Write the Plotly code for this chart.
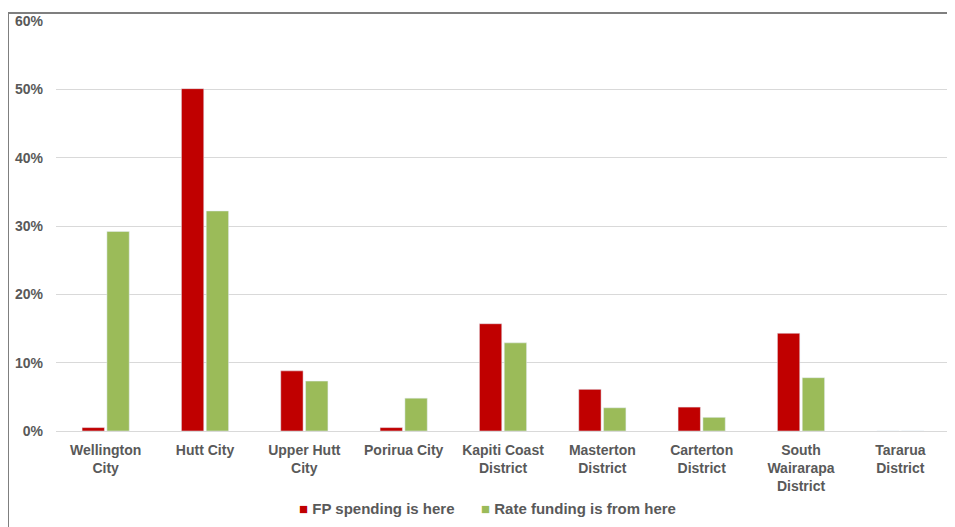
import plotly.graph_objects as go

categories = ["Wellington<br>City", "Hutt City", "Upper Hutt<br>City", "Porirua City",
              "Kapiti Coast<br>District", "Masterton<br>District", "Carterton<br>District",
              "South<br>Wairarapa<br>District", "Tararua<br>District"]
fp_spending = [0.5, 50.1, 8.8, 0.5, 15.7, 6.1, 3.5, 14.3, 0.0]
rate_funding = [29.2, 32.2, 7.3, 4.8, 12.9, 3.4, 2.0, 7.8, 0.0]
series_names = ["FP spending is here", "Rate funding is from here"]
series_colors = ["#C00000", "#9BBB59"]
y_ticks = [0, 10, 20, 30, 40, 50, 60]

grey = "#595959"
font_family = "Liberation Sans, Arial, sans-serif"

fig = go.Figure()
fig.add_trace(go.Bar(x=categories, y=fp_spending, name=series_names[0],
                     marker_color=series_colors[0], showlegend=False))
fig.add_trace(go.Bar(x=categories, y=rate_funding, name=series_names[1],
                     marker_color=series_colors[1], showlegend=False))

legend_x = [0.2696, 0.4735]
annotations = [
    dict(xref="paper", yref="paper", x=lx, y=-0.19, xanchor="left", yanchor="middle",
         showarrow=False,
         text=f"<span style='color:{c}'>■</span> <b>{n}</b>",
         font=dict(size=15, color=grey, family=font_family))
    for lx, n, c in zip(legend_x, series_names, series_colors)
]

fig.update_layout(
    width=947, height=519,
    margin=dict(l=48, r=5, t=13, b=96),
    paper_bgcolor="white", plot_bgcolor="white",
    barmode="group", bargap=0.5, bargroupgap=0.1,
    font=dict(family=font_family, color=grey),
    showlegend=False,
    annotations=annotations,
    xaxis=dict(tickfont=dict(size=14, weight="bold", color=grey), showline=True,
               linecolor="#d9d9d9", linewidth=1, ticks="", automargin=False,
               ticklabelstandoff=6),
    yaxis=dict(range=[0, 60], tickvals=y_ticks, ticktext=[f"{v}%" for v in y_ticks],
               tickfont=dict(size=14, weight="bold", color=grey),
               showgrid=True, gridcolor="#d9d9d9", gridwidth=1, zeroline=False,
               ticklabelstandoff=12, automargin=False),
    shapes=[dict(type="rect", xref="paper", yref="paper", x0=-0.0537, x1=1.2,
                 y0=-0.4, y1=1.0195, line=dict(color="#7f7f7f", width=2),
                 fillcolor="rgba(0,0,0,0)", layer="above")],
)

fig.write_html("out.html")
